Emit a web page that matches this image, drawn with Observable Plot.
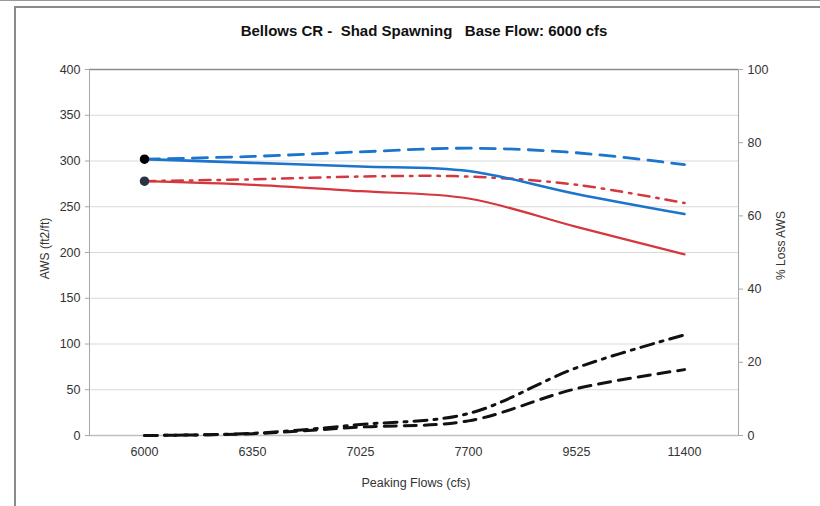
<!DOCTYPE html>
<html>
<head>
<meta charset="utf-8">
<script src="https://cdn.jsdelivr.net/npm/d3@7"></script>
<script src="https://cdn.jsdelivr.net/npm/@observablehq/plot@0.6"></script>
<style>
  html, body { margin: 0; padding: 0; background: #fff; }
  #wrap { position: relative; width: 820px; height: 506px; overflow: hidden; font-family: "Liberation Sans", Arial, sans-serif; }
  #topline { position: absolute; left: 0; top: 0; width: 820px; height: 1px; background: #999; }
  #frame { position: absolute; left: 14px; top: 6px; width: 900px; height: 600px; border-top: 2px solid #8a8a8a; border-left: 2px solid #8a8a8a; }
  #chart { position: absolute; left: 0; top: 0; }
</style>
</head>
<body>
<div id="wrap">
  <div id="topline"></div>
  <div id="frame"></div>
  <div id="chart"></div>
</div>
<script>
const categories = ["6000", "6350", "7025", "7700", "9525", "11400"];
const blueSolid  = [302, 298, 294, 289, 264, 242];
const blueDashed = [302, 305, 310, 314, 309, 296];
const redSolid   = [278, 274, 267, 259, 228, 198];
const redDashDot = [278, 280, 283, 283, 274, 254];
const lossDashDot = [0, 0.6, 3, 6, 18.5, 27.5];
const lossDashed  = [0, 0.5, 2.3, 4, 12.8, 18];
const leftTicks  = [0, 50, 100, 150, 200, 250, 300, 350, 400];
const rightTicks = [0, 20, 40, 60, 80, 100];
const title = "Bellows CR -  Shad Spawning   Base Flow: 6000 cfs";
const leftLabel = "AWS (ft2/ft)";
const rightLabel = "% Loss AWS";
const xLabel = "Peaking Flows (cfs)";

const scaleFactor = 4; // right axis 0-100 maps to left 0-400
const mk = (arr, f = 1) => categories.map((c, i) => ({x: c, y: arr[i] * f}));

const blue = "#1c74cc";
const red = "#d4373d";

const chart = Plot.plot({
  width: 820,
  height: 506,
  marginTop: 69,
  marginBottom: 71,
  marginLeft: 89,
  marginRight: 82,
  style: {fontFamily: "Liberation Sans, Arial, sans-serif", fontSize: "12px", color: "#333", background: "transparent"},
  x: {type: "point", domain: categories, padding: 0.5, label: null},
  y: {domain: [0, 400], label: null},
  marks: [
    Plot.ruleY(leftTicks.filter(d => d > 0 && d < 400), {stroke: "#d9d9d9", strokeWidth: 1}),
    Plot.ruleY([400], {stroke: "#8c8c8c", strokeWidth: 1.5}),
    Plot.ruleY([0], {stroke: "#bfbfbf", strokeWidth: 1.5}),
    Plot.frame({anchor: "left", stroke: "#a6a6a6"}),
    Plot.frame({anchor: "right", stroke: "#a6a6a6"}),
    Plot.axisY(leftTicks, {anchor: "left", tickSize: 4, tickPadding: 5, stroke: "#a6a6a6", fill: "#333", fontSize: 12.5, label: null}),
    Plot.axisY(rightTicks.map(d => d * scaleFactor), {anchor: "right", tickSize: 4, tickPadding: 5, tickFormat: d => d / scaleFactor, stroke: "#a6a6a6", fill: "#333", fontSize: 12.5, label: null}),
    Plot.axisX({tickSize: 0, tickPadding: 12, fill: "#333", fontSize: 12.5, label: null}),
    Plot.line(mk(lossDashed, scaleFactor), {x: "x", y: "y", stroke: "#111", strokeWidth: 3, strokeDasharray: "12,8", curve: "catmull-rom"}),
    Plot.line(mk(lossDashDot, scaleFactor), {x: "x", y: "y", stroke: "#111", strokeWidth: 3, strokeDasharray: "13,7,3,7", curve: "catmull-rom"}),
    Plot.line(mk(redDashDot), {x: "x", y: "y", stroke: red, strokeWidth: 2.5, strokeDasharray: "11,7,2.5,7", curve: "catmull-rom"}),
    Plot.line(mk(redSolid), {x: "x", y: "y", stroke: red, strokeWidth: 2.2, curve: "catmull-rom"}),
    Plot.line(mk(blueDashed), {x: "x", y: "y", stroke: blue, strokeWidth: 2.8, strokeDasharray: "15,9", curve: "catmull-rom"}),
    Plot.line(mk(blueSolid), {x: "x", y: "y", stroke: blue, strokeWidth: 2.6, curve: "catmull-rom"}),
    Plot.dot([{x: categories[0], y: blueSolid[0]}], {x: "x", y: "y", r: 4, fill: "#000", stroke: "#000"}),
    Plot.dot([{x: categories[0], y: redSolid[0]}], {x: "x", y: "y", r: 4, fill: "#2b3445", stroke: "#2b3445"}),
    Plot.text([title], {frameAnchor: "top", dy: -44, dx: 10, fontSize: 15, fontWeight: "bold", fill: "#111"}),
    Plot.text([xLabel], {frameAnchor: "bottom", dy: 51, dx: 2, fontSize: 12.5, fill: "#333"}),
    Plot.text([leftLabel], {frameAnchor: "left", textAnchor: "middle", dx: -44, dy: -4, rotate: -90, fontSize: 12, fill: "#333"}),
    Plot.text([rightLabel], {frameAnchor: "right", textAnchor: "middle", dx: 43, dy: -7, rotate: -90, fontSize: 12, fill: "#333"})
  ]
});
document.getElementById("chart").appendChild(chart);
</script>
</body>
</html>
